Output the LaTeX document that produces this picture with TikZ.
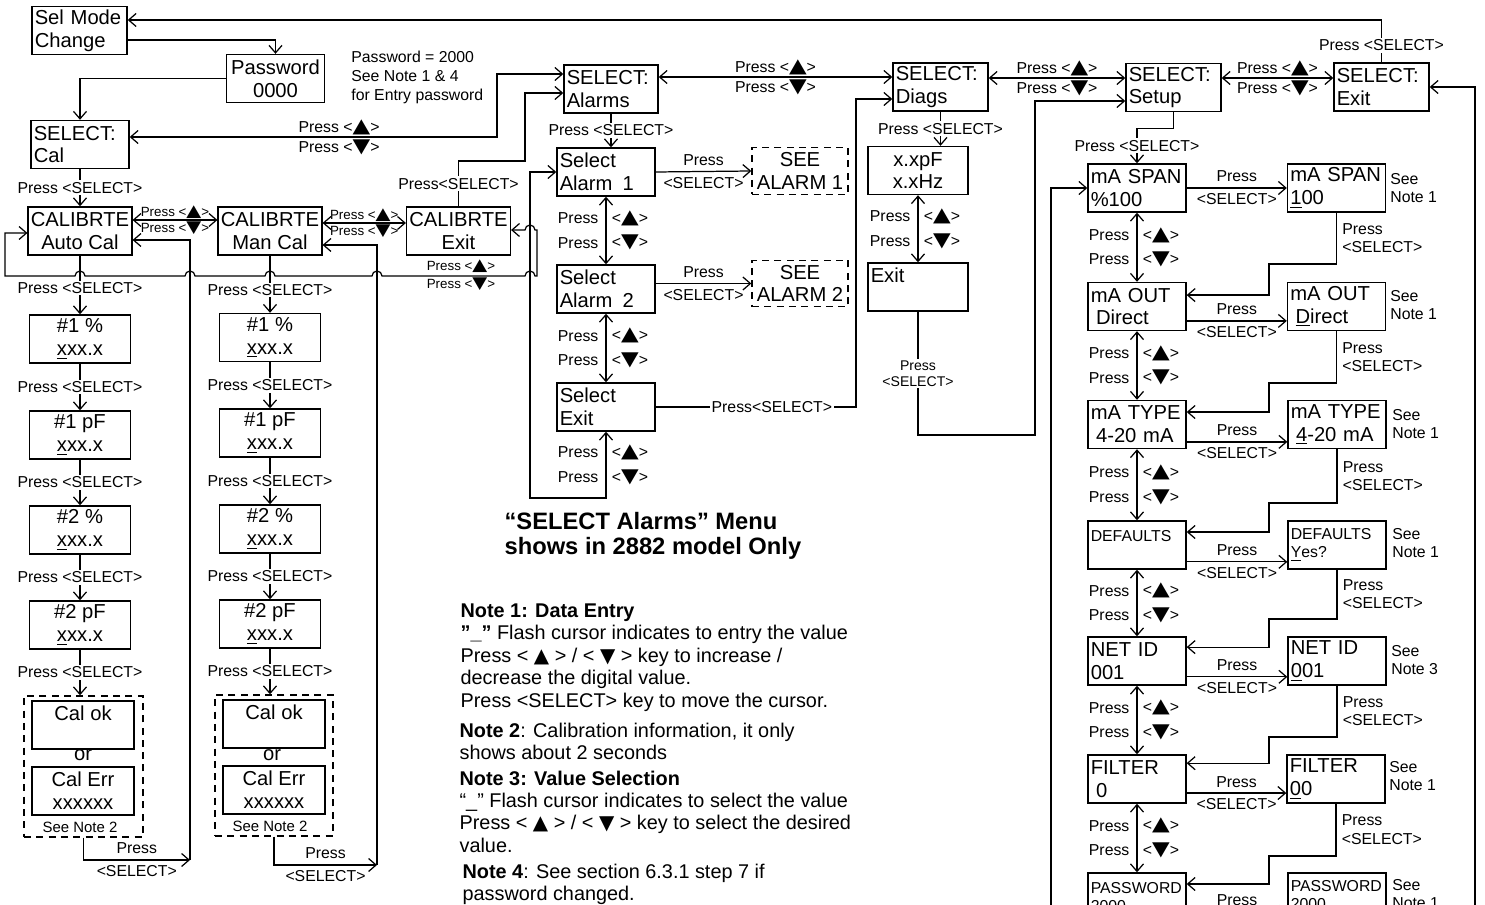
\documentclass[tikz,border=0pt]{standalone}
\usepackage{fontspec}
\usepackage{graphicx}
\setmainfont{Liberation Sans}
\newfontfamily\trifont{DejaVu Sans}
\usetikzlibrary{positioning, arrows.meta}

\newcommand{\boxfont}{\fontsize{11.5}{13}\selectfont}
\newcommand{\smallboxfont}{\fontsize{9}{10.5}\selectfont}
\newcommand{\lblfont}{\fontsize{9}{10.5}\selectfont}
\newcommand{\tinylblfont}{\fontsize{7.6}{8}\selectfont}
\newcommand{\notefont}{\fontsize{11.3}{12.8}\selectfont}
\newcommand{\triup}{{\trifont\scalebox{1.45}[1.25]{▲}}}
\newcommand{\tridn}{{\trifont\scalebox{1.45}[1.25]{▼}}}
\newcommand{\ntriup}{{\trifont ▲}}
\newcommand{\ntridn}{{\trifont ▼}}

\begin{document}
\begin{tikzpicture}[
  x=0.02cm, y=-0.02cm,
  line width=0.7pt,
  flow/.style={-{Straight Barb[length=1.5mm, width=2.6mm]}},
  flowboth/.style={{Straight Barb[length=1.5mm, width=2.6mm]}-{Straight Barb[length=1.5mm, width=2.6mm]}},
  lcd/.style={draw, line width=0.8pt, minimum width=1.96cm, minimum height=0.96cm,
              inner sep=1.5pt, font=\boxfont},
  lcdl/.style={lcd, align=left, text width=1.85cm},
  lcdc/.style={lcd, align=center},
  selbox/.style={lcdl, minimum width=1.9cm, text width=1.79cm},
  seebox/.style={lcdc, dash pattern=on 4pt off 3pt, minimum width=1.92cm, minimum height=0.93cm},
  dashframe/.style={draw, line width=0.8pt, dash pattern=on 4pt off 3pt,
                    minimum width=2.38cm, minimum height=2.82cm},
  lbl/.style={font=\lblfont, inner sep=1pt},
  onwire/.style={lbl, fill=white},
  tinylbl/.style={font=\tinylblfont, inner sep=0.5pt},
  upL/.style={font=\fontsize{9}{14}\selectfont, align=right, anchor=east, inner sep=0pt, xshift=-4pt},
  upR/.style={font=\fontsize{9}{14}\selectfont, align=left, anchor=west, inner sep=0pt, xshift=3pt},
  retlbl/.style={lbl, anchor=west, align=left, xshift=2pt},
  seenote/.style={font=\fontsize{9}{10}\selectfont, anchor=west, align=left, inner sep=1pt},
  note/.style={font=\notefont, anchor=north west, align=left, inner sep=0pt},
]
\useasboundingbox (0,0) rectangle (1485,905);
\clip (0,0) rectangle (1485,905);

% ---------- entry ----------
\node[selbox] (selmode) at (79.5,30.5) {Sel Mode\\Change};
\node[lcdc] (passwd) at (275.5,78.5) {Password\\0000};
\node[lbl, font=\fontsize{9}{10.8}\selectfont, anchor=north west, align=left] (pwnote) at (349,49)
  {Password = 2000\\See Note 1 \& 4\\for Entry password};
\node[lcdl] (selcal) at (80,144.5) {SELECT:\\Cal};

% ---------- calibration ----------
\node[lcdc, minimum width=2.04cm] (autocal) at (80,231) {CALIBRTE\\Auto Cal};
\node[lcdc, minimum width=2.02cm] (mancal) at (270,231) {CALIBRTE\\Man Cal};
\node[lcdc, minimum width=2.02cm] (calexit) at (458.5,231) {CALIBRTE\\Exit};

% auto cal column
\node[lcdc, minimum width=2.02cm] (a1) at (80,339) {\#1 \%\\\underline{x}xx.x};
\node[lcdc, minimum width=2.02cm] (a2) at (80,435) {\#1 pF\\\underline{x}xx.x};
\node[lcdc, minimum width=2.02cm] (a3) at (80,530) {\#2 \%\\\underline{x}xx.x};
\node[lcdc, minimum width=2.02cm] (a4) at (80,625) {\#2 pF\\\underline{x}xx.x};
\node[dashframe] (adash) at (83.5,766.5) {};
\node[lcdc, minimum width=2.04cm] (aok) at (83,725) {Cal ok\\~};
\node[font=\boxfont, inner sep=0pt] (aor) at (83,755) {or};
\node[lcdc, minimum width=2.04cm] (aerr) at (83,791) {Cal Err\\xxxxxx};
\node[font=\fontsize{8.5}{9}\selectfont, inner sep=0pt] (anote) at (80,827) {See Note 2};

% manual cal column
\node[lcdc, minimum width=2.02cm] (m1) at (270,337.5) {\#1 \%\\\underline{x}xx.x};
\node[lcdc, minimum width=2.02cm] (m2) at (270,433) {\#1 pF\\\underline{x}xx.x};
\node[lcdc, minimum width=2.02cm] (m3) at (270,529) {\#2 \%\\\underline{x}xx.x};
\node[lcdc, minimum width=2.02cm] (m4) at (270,624) {\#2 pF\\\underline{x}xx.x};
\node[dashframe, minimum width=2.36cm] (mdash) at (274,765.5) {};
\node[lcdc, minimum width=2.04cm] (mok) at (274,724) {Cal ok\\~};
\node[font=\boxfont, inner sep=0pt] (mor) at (272,755) {or};
\node[lcdc, minimum width=2.04cm] (merr) at (274,790) {Cal Err\\xxxxxx};
\node[font=\fontsize{8.5}{9}\selectfont, inner sep=0pt] (mnote) at (270,826) {See Note 2};

% ---------- alarms ----------
\node[selbox, minimum width=1.88cm, text width=1.77cm] (selalarms) at (611,89) {SELECT:\\Alarms};
\node[lcdl] (alarm1) at (606,172) {Select\\Alarm\enspace 1};
\node[seebox] (see1) at (800,171) {SEE\\ALARM 1};
\node[lcdl] (alarm2) at (606,289) {Select\\Alarm\enspace 2};
\node[seebox] (see2) at (800,283.5) {SEE\\ALARM 2};
\node[lcdl] (alarmexit) at (606,407) {Select\\Exit};
\node[font=\fontsize{13.5}{14.2}\selectfont\bfseries, anchor=north west, align=left, inner sep=0pt]
  (alarmtitle) at (504,512) {“SELECT Alarms” Menu\\shows in 2882 model Only};

% ---------- diags ----------
\node[selbox] (seldiags) at (940.5,87) {SELECT:\\Diags};
\node[lcdc, minimum width=2cm] (xpf) at (918,170.5) {x.xpF\\x.xHz};
\node[lcdl, minimum width=2cm, text width=1.89cm] (diagexit) at (918,287) {Exit\\~};

% ---------- setup ----------
\node[selbox] (selsetup) at (1173.5,87.5) {SELECT:\\Setup};
\node[selbox] (selexit) at (1381.5,87) {SELECT:\\Exit};

\node[lcdl] (span) at (1137,188) {mA SPAN\\\%100};
\node[lcdl] (spanE) at (1336.5,188) {mA SPAN\\\underline{1}00};
\node[seenote] (spanN) at (1388,188) {See\\Note 1};

\node[lcdl] (out) at (1137,306.5) {mA OUT\\\hspace*{3pt}Direct};
\node[lcdl] (outE) at (1336.5,306.5) {mA OUT\\\hspace*{3pt}\underline{D}irect};
\node[seenote] (outN) at (1388,305) {See\\Note 1};

\node[lcdl] (type) at (1137,424.5) {mA TYPE\\\hspace*{3pt}4-20 mA};
\node[lcdl] (typeE) at (1337,424.5) {mA TYPE\\\hspace*{3pt}\underline{4}-20 mA};
\node[seenote] (typeN) at (1390,424) {See\\Note 1};

\node[lcdl, font=\smallboxfont] (dflt) at (1137,545) {DEFAULTS\\~};
\node[lcdl, font=\smallboxfont] (dfltE) at (1337,545) {DEFAULTS\\\underline{Y}es?};
\node[seenote] (dfltN) at (1390,543) {See\\Note 1};

\node[lcdl] (netid) at (1137,661) {NET ID\\001};
\node[lcdl] (netidE) at (1337,661) {NET ID\\\underline{0}01};
\node[seenote] (netidN) at (1389,660) {See\\Note 3};

\node[lcdl] (filt) at (1137,779) {FILTER\\\hspace*{3pt}0};
\node[lcdl] (filtE) at (1336,779) {FILTER\\\underline{0}0};
\node[seenote] (filtN) at (1387,776) {See\\Note 1};

\node[lcdl, font=\smallboxfont] (pw) at (1137,897) {PASSWORD\\2000};
\node[lcdl, font=\smallboxfont] (pwE) at (1337,897) {PASSWORD\\\underline{2}000};
\node[seenote] (pwN) at (1390,894) {See\\Note 1};

% ---------- notes ----------
\node[note] (note1) at (460,603)
  {\textbf{Note 1: Data Entry}\\
   \textbf{”\_”} Flash cursor indicates to entry the value\\
   Press < \ntriup{} > / < \ntridn{} > key to increase /\\
   decrease the digital value.\\
   Press <SELECT> key to move the cursor.};
\node[note] (note2) at (459,722)
  {\textbf{Note 2}: Calibration information, it only\\shows about 2 seconds};
\node[note] (note3) at (459,770)
  {\textbf{Note 3: Value Selection}\\
   “\_” Flash cursor indicates to select the value\\
   Press < \ntriup{} > / < \ntridn{} > key to select the desired\\
   value.};
\node[note] (note4) at (462,863)
  {\textbf{Note 4}: See section 6.3.1 step 7 if\\password changed.};

% ---------- entry arrows ----------
\draw[flow] (selexit.north) -- node[onwire, pos=0.4]{Press <SELECT>} (selexit.north |- 0,20)
  -- (selmode.east |- 0,20);
\draw[flow] (selmode.east |- 0,40) -| (passwd.north);
\draw[flow] (passwd.west) -| (selcal.north);
\draw[flowboth] (selcal.east |- 0,137)
  -- node[lbl, pos=0.57, above=0pt]{Press <\triup>} node[lbl, pos=0.57, below=0pt]{Press <\tridn>} (497,137)
  |- (selalarms.west |- 0,74);
\draw[flow] (selcal.south) -- node[onwire]{Press <SELECT>} (autocal.north);

% ---------- calibration arrows ----------
\draw[flowboth] (autocal.east |- 0,220)
  -- node[tinylbl, above=0pt]{Press <\triup>} node[tinylbl, below=0pt]{Press <\tridn>} (mancal.west |- 0,220);
\draw[flowboth] (mancal.east |- 0,223)
  -- node[tinylbl, above=0pt]{Press <\triup>} node[tinylbl, below=0pt]{Press <\tridn>} (calexit.west |- 0,223);
\draw[flow] (calexit.north) -- node[onwire]{Press<SELECT>} (458.5,161) -| (525,93)
  -- (selalarms.west |- 0,93);

% wrap from exit back to auto cal, hopping over the crossings
\draw[flowboth] (calexit.east |- 0,230) -- (525,230) arc[start angle=180, end angle=0, radius=0.1cm]
  -- (537,230) -- (537,276) -- (535,276) arc[start angle=0, end angle=180, radius=0.1cm]
  -- (382,276) arc[start angle=0, end angle=180, radius=0.1cm]
  -- (275,276) arc[start angle=0, end angle=180, radius=0.1cm]
  -- (195,276) arc[start angle=0, end angle=180, radius=0.1cm]
  -- (85,276) arc[start angle=0, end angle=180, radius=0.1cm]
  -- (5,276) -- (5,233) -- (autocal.west |- 0,233);
\node[tinylbl] (wrapup) at (461,266) {Press <\triup>};
\node[tinylbl] (wrapdn) at (461,284) {Press <\tridn>};

% auto cal column
\draw[flow] (autocal.south) -- node[onwire, pos=0.55]{Press <SELECT>} (a1.north);
\draw[flow] (a1.south) -- node[onwire]{Press <SELECT>} (a2.north);
\draw[flow] (a2.south) -- node[onwire]{Press <SELECT>} (a3.north);
\draw[flow] (a3.south) -- node[onwire]{Press <SELECT>} (a4.north);
\draw[flow] (a4.south) -- node[onwire]{Press <SELECT>} (a4.south |- adash.north);
\coordinate (aret) at (190,860);
\draw[flow] (adash.south) |- node[lbl, pos=0.75, above=2pt]{Press} node[lbl, pos=0.75, below=2pt]{<SELECT>} (aret);
\draw[flow] (aret) |- (autocal.east |- 0,240);

% manual cal column
\draw[flow] (mancal.south) -- node[onwire, pos=0.6]{Press <SELECT>} (m1.north);
\draw[flow] (m1.south) -- node[onwire]{Press <SELECT>} (m2.north);
\draw[flow] (m2.south) -- node[onwire]{Press <SELECT>} (m3.north);
\draw[flow] (m3.south) -- node[onwire]{Press <SELECT>} (m4.north);
\draw[flow] (m4.south) -- node[onwire]{Press <SELECT>} (m4.south |- mdash.north);
\coordinate (mret) at (377,865);
\draw[flow] (mdash.south) |- node[lbl, pos=0.75, above=2pt]{Press} node[lbl, pos=0.75, below=2pt]{<SELECT>} (mret);
\draw[flow] (mret) |- (mancal.east |- 0,245);

% ---------- alarm arrows ----------
\draw[flowboth] (selalarms.east |- 0,77)
  -- node[lbl, above=0pt]{Press <\triup>} node[lbl, below=0pt]{Press <\tridn>} (seldiags.west |- 0,77);
\draw[flow] (selalarms.south) -- node[onwire]{Press <SELECT>} (selalarms.south |- alarm1.north);
\draw[flow] (alarm1.east) -- node[lbl, above=2pt]{Press} node[lbl, below=2pt]{<SELECT>} (see1.west);
\draw[flow] (alarm2.east |- see2.west) -- node[lbl, above=2pt]{Press} node[lbl, below=2pt]{<SELECT>} (see2.west);
\draw[flowboth] (alarm1.south) -- node[upL]{Press\\Press} node[upR]{<\triup>\\<\tridn>} (alarm2.north);
\draw[flowboth] (alarm2.south) -- node[upL]{Press\\Press} node[upR]{<\triup>\\<\tridn>} (alarmexit.north);
\draw[flowboth] (alarmexit.south) |- node[upL, pos=0.25]{Press\\Press} node[upR, pos=0.25]{<\triup>\\<\tridn>} (530,498)
  |- (alarm1.west);
\draw[flow] (alarmexit.east) -- node[onwire, pos=0.58]{Press<SELECT>} (856,407) |- (seldiags.west |- 0,99);

% ---------- diag arrows ----------
\draw[flowboth] (seldiags.east |- 0,78)
  -- node[lbl, above=0pt]{Press <\triup>} node[lbl, below=0pt]{Press <\tridn>} (selsetup.west |- 0,78);
\draw[flow] (seldiags.south) -- node[onwire]{Press <SELECT>} (seldiags.south |- xpf.north);
\draw[flowboth] (xpf.south) -- node[upL]{Press\\Press} node[upR]{<\triup>\\<\tridn>} (diagexit.north);
\draw[flow] (diagexit.south) -- node[onwire, font=\fontsize{8}{9}\selectfont, align=center]{Press\\<SELECT>} (918,435)
  -| (1035,101) -- (selsetup.west |- 0,101);

% ---------- setup arrows ----------
\draw[flowboth] (selsetup.east |- 0,78)
  -- node[lbl, above=0pt]{Press <\triup>} node[lbl, below=0pt]{Press <\tridn>} (selexit.west |- 0,78);
\draw[flow] (selsetup.south) -- ++(0,16) -| node[onwire, pos=0.75]{Press <SELECT>} (span.north);
\coordinate (spanwrap) at (1051,930);
\draw[flow] (spanwrap) |- (span.west);
\coordinate (exitwrap) at (1475,930);
\draw[flow] (exitwrap) |- (selexit.east);

\draw[flow] (span.east) -- node[lbl, above=2pt]{Press} node[lbl, below=2pt]{<SELECT>} (spanE.west);
\draw[flow] ([yshift=-8.2pt]out.east) -- node[lbl, above=2pt]{Press} node[lbl, below=2pt]{<SELECT>} ([yshift=-8.2pt]outE.west);
\draw[flow] ([yshift=-9.9pt]type.east) -- node[lbl, above=2pt]{Press} node[lbl, below=2pt]{<SELECT>} ([yshift=-9.9pt]typeE.west);
\draw[flow] ([yshift=-9.6pt]dflt.east) -- node[lbl, above=2pt]{Press} node[lbl, below=2pt]{<SELECT>} ([yshift=-9.6pt]dfltE.west);
\draw[flow] ([yshift=-9pt]netid.east) -- node[lbl, above=2pt]{Press} node[lbl, below=2pt]{<SELECT>} ([yshift=-9pt]netidE.west);
\draw[flow] ([yshift=-8pt]filt.east) -- node[lbl, above=2pt]{Press} node[lbl, below=2pt]{<SELECT>} ([yshift=-8pt]filtE.west);
\draw[flow] ([yshift=-8.5pt]pw.east) -- node[lbl, above=2pt]{Press} node[lbl, below=2pt]{<SELECT>} ([yshift=-8.5pt]pwE.west);

\draw[flow] (spanE.south) |- node[retlbl, pos=0.25]{Press\\<SELECT>} (1269,264) |- ([yshift=6.5pt]out.east);
\draw[flow] (outE.south) |- node[retlbl, pos=0.25]{Press\\<SELECT>} (1269,383) |- ([yshift=7.1pt]type.east);
\draw[flow] (typeE.south) |- node[retlbl, pos=0.25]{Press\\<SELECT>} (1269,503) |- ([yshift=7.4pt]dflt.east);
\draw[flow] (dfltE.south) |- node[retlbl, pos=0.25]{Press\\<SELECT>} (1269,619) |- ([yshift=7.9pt]netid.east);
\draw[flow] (netidE.south) |- node[retlbl, pos=0.25]{Press\\<SELECT>} (1269,737) |- ([yshift=9pt]filt.east);
\draw[flow] (filtE.south) |- node[retlbl, pos=0.25]{Press\\<SELECT>} (1269,856) |- ([yshift=7.4pt]pw.east);

\draw[flowboth] (span.south) -- node[upL]{Press\\Press} node[upR]{<\triup>\\<\tridn>} (out.north);
\draw[flowboth] (out.south) -- node[upL]{Press\\Press} node[upR]{<\triup>\\<\tridn>} (type.north);
\draw[flowboth] (type.south) -- node[upL]{Press\\Press} node[upR]{<\triup>\\<\tridn>} (dflt.north);
\draw[flowboth] (dflt.south) -- node[upL]{Press\\Press} node[upR]{<\triup>\\<\tridn>} (netid.north);
\draw[flowboth] (netid.south) -- node[upL]{Press\\Press} node[upR]{<\triup>\\<\tridn>} (filt.north);
\draw[flowboth] (filt.south) -- node[upL]{Press\\Press} node[upR]{<\triup>\\<\tridn>} (pw.north);

\end{tikzpicture}
\end{document}
